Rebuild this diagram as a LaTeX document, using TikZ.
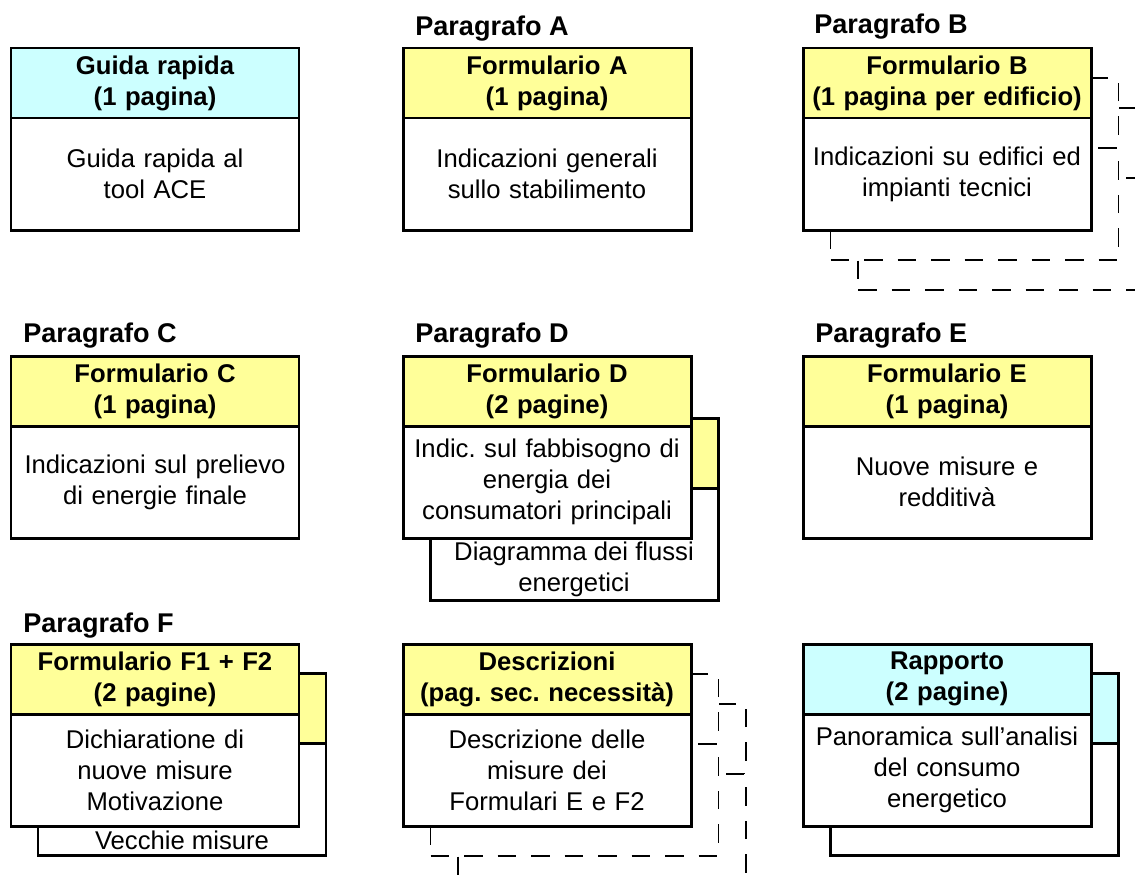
\documentclass[tikz,border=0pt]{standalone}
\usepackage{fontspec}
\setmainfont{Liberation Sans}
\usetikzlibrary{positioning,calc}
\frenchspacing
\definecolor{formyellow}{RGB}{255,255,153}
\definecolor{guidecyan}{RGB}{204,255,255}
\tikzset{
  sheet/.style={draw=black,line width=1.7pt,outer sep=0pt,
    minimum width=5.76cm,inner sep=2pt,text width=5.5cm,align=center,
    font=\fontsize{14.6}{17.6}\selectfont},
  formhead/.style={sheet,fill=formyellow,minimum height=1.4cm,
    font=\fontsize{14.6}{17.6}\selectfont\bfseries},
  formbody/.style={sheet,fill=white,minimum height=2.24cm},
  ghost/.style={draw=black,line width=0.8pt,fill=white,outer sep=0pt,
    dash pattern=on 0.37cm off 0.3cm,minimum width=5.76cm},
  ghosthead/.style={ghost,minimum height=1.4cm},
  ghostbody/.style={ghost,minimum height=2.24cm},
  paratitle/.style={anchor=base west,inner sep=0pt,
    font=\fontsize{15.4}{18}\selectfont\bfseries},
  sheetnote/.style={align=center,inner sep=0pt,
    font=\fontsize{14.6}{17.6}\selectfont},
}

\begin{document}
\begin{tikzpicture}
\clip (0,0) rectangle (22.7,-17.66);

% --- first row ---
\node[formhead,fill=guidecyan] (Ghead) at (3.10,-1.66) {Guida rapida\\(1 pagina)};
\node[formbody,below=0pt of Ghead] (Gbody) {Guida rapida al\\tool ACE};

\node[formhead] (Ahead) at (10.94,-1.66) {Formulario A\\(1 pagina)};
\node[formbody,below=0pt of Ahead] (Abody) {Indicazioni generali\\sullo stabilimento};
\node[paratitle] (parA) at ([shift={(0.24,0.26)}]Ahead.north west) {Paragrafo A};

% one sheet per building: dashed copies behind
\foreach \k in {2,1}{
  \node[ghosthead] (Bghead\k) at ($(18.94,-1.66)+(\k*0.55,-\k*0.6)$) {};
  \node[ghostbody,below=0pt of Bghead\k] (Bgbody\k) {};
}
\node[formhead] (Bhead) at (18.94,-1.66) {Formulario B\\(1 pagina per edificio)};
\node[formbody,below=0pt of Bhead] (Bbody) {Indicazioni su edifici ed\\impianti tecnici};
\node[paratitle] (parB) at ([shift={(0.22,0.3)}]Bhead.north west) {Paragrafo B};

% --- second row ---
\node[formhead] (Chead) at (3.10,-7.82) {Formulario C\\(1 pagina)};
\node[formbody,below=0pt of Chead] (Cbody) {Indicazioni sul prelievo\\di energie finale};
\node[paratitle] (parC) at ([shift={(0.24,0.28)}]Chead.north west) {Paragrafo C};

\node[formhead] (Dbackhead) at ($(10.94,-7.82)+(0.54,-1.24)$) {};
\node[formbody,below=0pt of Dbackhead] (Dbackbody) {};
\node[sheetnote] (Dnote) at ([yshift=0.62cm]Dbackbody.south) {Diagramma dei flussi\\energetici};
\node[formhead] (Dhead) at (10.94,-7.82) {Formulario D\\(2 pagine)};
\node[formbody,below=0pt of Dhead] (Dbody) {Indic. sul fabbisogno di\\energia dei\\consumatori principali};
\node[paratitle] (parD) at ([shift={(0.24,0.28)}]Dhead.north west) {Paragrafo D};

\node[formhead] (Ehead) at (18.94,-7.82) {Formulario E\\(1 pagina)};
\node[formbody,below=0pt of Ehead] (Ebody) {Nuove misure e\\redditivà};
\node[paratitle] (parE) at ([shift={(0.24,0.28)}]Ehead.north west) {Paragrafo E};

% --- third row ---
\node[formhead] (Fbackhead) at ($(3.10,-13.58)+(0.54,-0.58)$) {};
\node[formbody,below=0pt of Fbackhead] (Fbackbody) {};
\node[sheetnote] (Fnote) at ([yshift=0.3cm]Fbackbody.south) {Vecchie misure};
\node[formhead] (Fhead) at (3.10,-13.58) {Formulario F1 + F2\\(2 pagine)};
\node[formbody,below=0pt of Fhead] (Fbody) {Dichiaratione di\\nuove misure\\Motivazione};
\node[paratitle] (parF) at ([shift={(0.24,0.24)}]Fhead.north west) {Paragrafo F};

\foreach \k in {2,1}{
  \node[ghosthead] (Sghead\k) at ($(10.94,-13.58)+(\k*0.55,-\k*0.6)$) {};
  \node[ghostbody,below=0pt of Sghead\k] (Sgbody\k) {};
}
\node[formhead] (Shead) at (10.94,-13.58) {Descrizioni\\(pag. sec. necessità)};
\node[formbody,below=0pt of Shead] (Sbody) {Descrizione delle\\misure dei\\Formulari E e F2};

\node[formhead,fill=guidecyan] (Rbackhead) at ($(18.94,-13.58)+(0.54,-0.58)$) {};
\node[formbody,below=0pt of Rbackhead] (Rbackbody) {};
\node[formhead,fill=guidecyan] (Rhead) at (18.94,-13.58) {Rapporto\\(2 pagine)};
\node[formbody,below=0pt of Rhead] (Rbody) {Panoramica sull’analisi\\del consumo\\energetico};
\end{tikzpicture}
\end{document}
